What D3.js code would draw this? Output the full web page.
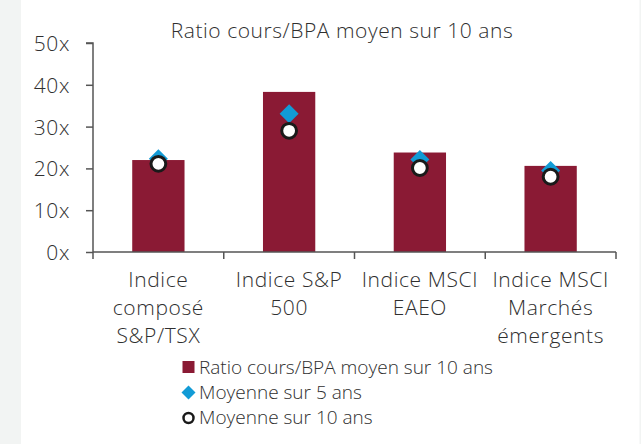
<!DOCTYPE html>
<html><head><meta charset="utf-8">
<script src="https://cdn.jsdelivr.net/npm/d3@7"></script>
<style>html,body{margin:0;padding:0;background:#fff;}svg{display:block;}text{font-family:"Open Sans",sans-serif;font-weight:300;fill:#2f2f2f;}</style>
</head><body>
<script>
const title = "Ratio cours/BPA moyen sur 10 ans";
const categories = ["Indice composé S&P/TSX","Indice S&P 500","Indice MSCI EAEO","Indice MSCI Marchés émergents"];
const categoryLines = [["Indice","composé","S&P/TSX"],["Indice S&P","500"],["Indice MSCI","EAEO"],["Indice MSCI","Marchés","émergents"]];
const pe10 = [22.0, 38.3, 23.8, 20.6];
const avg5 = [22.3, 33.1, 22.1, 19.5];
const avg10 = [21.1, 29.0, 20.1, 18.0];
const yTicks = [0,10,20,30,40,50];
const legendLabels = ["Ratio cours/BPA moyen sur 10 ans","Moyenne sur 5 ans","Moyenne sur 10 ans"];

const W=641,H=444;
const barColor="#8a1a34", diaColor="#129bd6", circStroke="#1a1a1a";
const svg=d3.select("body").append("svg").attr("width",W).attr("height",H);
svg.append("rect").attr("x",0).attr("y",0).attr("width",21).attr("height",H).attr("fill","#f2f4f3");
svg.append("rect").attr("x",639.5).attr("y",0).attr("width",2).attr("height",H).attr("fill","#f2f4f3");

const x=d3.scaleBand().domain(categories).range([93,616]).paddingInner(0).paddingOuter(0);
const y=d3.scaleLinear().domain([0,50]).range([252,43]);

svg.append("text").attr("x",342).attr("y",38).attr("text-anchor","middle").attr("font-size",21).attr("letter-spacing",0.55).text(title);

// bars
const bw=x.bandwidth()*0.4;
svg.selectAll("rect.bar").data(categories).join("rect").attr("class","bar")
 .attr("x",d=>x(d)+x.bandwidth()/2-bw/2).attr("width",bw)
 .attr("y",(d,i)=>y(pe10[i])).attr("height",(d,i)=>y(0)-y(pe10[i])).attr("fill",barColor);

// y axis
const yAxis=d3.axisLeft(y).tickValues(yTicks).tickFormat(d=>d+"x").tickSize(7).tickPadding(16);
const gy=svg.append("g").attr("transform","translate(93,0)").call(yAxis);
gy.select(".domain").attr("stroke","#555").attr("stroke-width",1.5).attr("d","M-7,43H0V252");
gy.selectAll(".tick line").attr("stroke","#555").attr("stroke-width",1.5);
gy.selectAll(".tick text").attr("font-size",21).attr("letter-spacing",0.6).attr("font-family","'Open Sans', sans-serif").attr("font-weight",300).attr("fill","#2f2f2f").attr("dy","0.36em");

// x axis
const gx=svg.append("g");
gx.append("line").attr("x1",93).attr("x2",616).attr("y1",252).attr("y2",252).attr("stroke","#555").attr("stroke-width",1.5);
const edges=categories.map(c=>x(c)).concat([x(categories[categories.length-1])+x.bandwidth()]);
gx.selectAll("line.t").data(edges).join("line").attr("class","t").attr("x1",d=>d).attr("x2",d=>d).attr("y1",252).attr("y2",259).attr("stroke","#555").attr("stroke-width",1.5);
categories.forEach((c,i)=>{
  const t=svg.append("text").attr("text-anchor","middle").attr("font-size",21).attr("letter-spacing",0.6);
  categoryLines[i].forEach((l,j)=>t.append("tspan").attr("x",x(c)+x.bandwidth()/2).attr("y",286.5+j*28.3).text(l));
});

// markers
const dia=(cx,cy,r)=>`M${cx},${cy-r}L${cx+r},${cy}L${cx},${cy+r}L${cx-r},${cy}Z`;
svg.selectAll("path.d5").data(categories).join("path").attr("class","d5")
 .attr("d",(d,i)=>dia(x(d)+x.bandwidth()/2,y(avg5[i]),9.5)).attr("fill",diaColor);
svg.selectAll("circle.c10").data(categories).join("circle").attr("class","c10")
 .attr("cx",d=>x(d)+x.bandwidth()/2).attr("cy",(d,i)=>y(avg10[i])).attr("r",7.4)
 .attr("fill","#fff").attr("stroke",circStroke).attr("stroke-width",3);

// legend
const lg=svg.append("g");
lg.append("rect").attr("x",182.5).attr("y",361).attr("width",12).attr("height",12).attr("fill",barColor);
lg.append("path").attr("d",dia(188.5,392.5,7)).attr("fill",diaColor);
lg.append("circle").attr("cx",188.5).attr("cy",418).attr("r",5).attr("fill","#fff").attr("stroke",circStroke).attr("stroke-width",2.5);
legendLabels.forEach((l,i)=>lg.append("text").attr("x",199).attr("y",374+i*25).attr("font-size",19).text(l));
</script>
</body></html>
